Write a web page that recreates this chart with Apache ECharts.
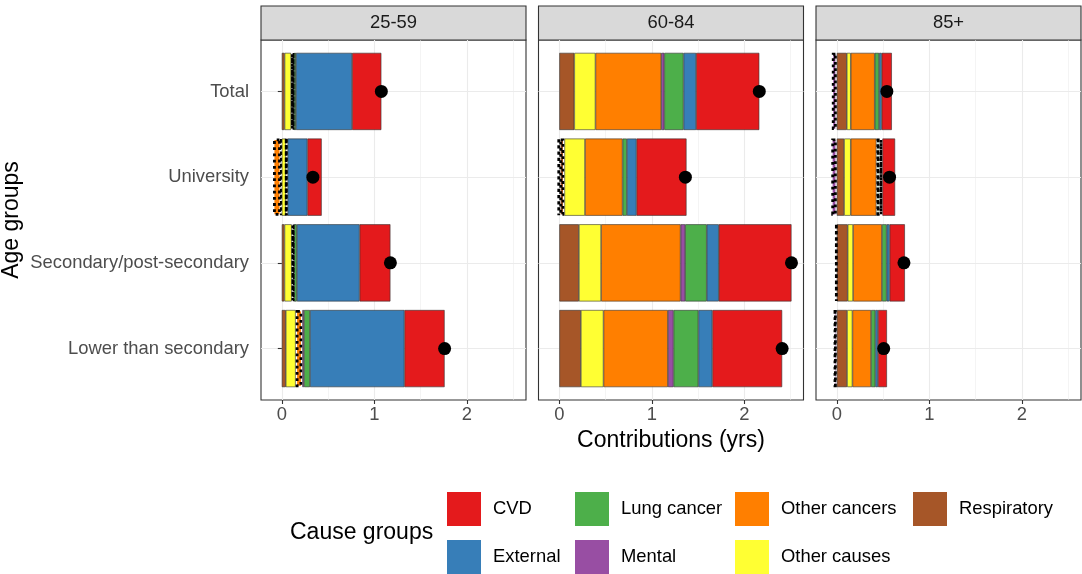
<!DOCTYPE html>
<html><head><meta charset="utf-8">
<script src="https://cdn.jsdelivr.net/npm/echarts@6/dist/echarts.min.js"></script>
<style>html,body{margin:0;padding:0;background:#fff}#c{width:1082px;height:574px}</style>
</head><body><div id="c"></div>
<script>
// ---------------- data ----------------
const ages = ['25-59', '60-84', '85+'];
const groups = ['Total', 'University', 'Secondary/post-secondary', 'Lower than secondary'];
const causes = ['Respiratory', 'Other causes', 'Other cancers', 'Mental', 'Lung cancer', 'External', 'CVD'];
const causeColors = ['#A65628', '#FFFF33', '#FF7F00', '#984EA3', '#4DAF4A', '#377EB8', '#E41A1C'];
const legendCols = [['CVD', 'External'], ['Lung cancer', 'Mental'], ['Other cancers', 'Other causes'], ['Respiratory']];

// rows = causes (order above), columns = groups (Total, University, Secondary, Lower)
const vals2559 = [
  [0.030, -0.010, 0.029, 0.043],
  [0.070, 0.045, 0.078, 0.107],
  [0.030, -0.085, 0.025, 0.072],
  [0.003, 0.005, 0.003, 0.018],
  [0.020, 0.012, 0.028, 0.065],
  [0.607, 0.215, 0.678, 1.021],
  [0.316, 0.154, 0.333, 0.434]
];
const vals6084 = [
  [0.162, 0.055, 0.212, 0.233],
  [0.229, 0.223, 0.240, 0.245],
  [0.711, 0.406, 0.859, 0.696],
  [0.033, -0.012, 0.050, 0.061],
  [0.208, 0.047, 0.233, 0.269],
  [0.136, 0.104, 0.130, 0.151],
  [0.683, 0.540, 0.786, 0.754]
];
const vals85 = [
  [0.108, 0.079, 0.118, 0.111],
  [0.043, 0.072, 0.058, 0.058],
  [0.259, 0.277, 0.312, 0.201],
  [-0.054, -0.060, -0.010, -0.035],
  [0.047, 0.035, 0.051, 0.047],
  [0.028, 0.030, 0.032, 0.028],
  [0.110, 0.137, 0.165, 0.097]
];
// non-significant contributions (drawn with dotted outline)
const ns2559 = [[0,1,0,0],[0,0,0,0],[1,1,1,1],[1,1,1,0],[0,1,0,0],[0,0,0,0],[0,0,0,0]];
const ns6084 = [[0,1,0,0],[0,0,0,0],[0,0,0,0],[0,1,0,0],[0,0,0,0],[0,0,0,0],[0,0,0,0]];
const ns85   = [[0,0,0,0],[0,0,0,0],[0,0,0,0],[1,1,1,1],[0,1,0,0],[0,1,0,0],[0,0,0,0]];

const xMin = -0.225, xMax = 2.64;
const xTicks = [0, 1, 2];
const xMinor = [0.5, 1.5, 2.5];

// ---------------- layout ----------------
const FONT = '"Liberation Sans", Arial, Helvetica, sans-serif';
const SMALL = 18.4, BIG = 23;
const panelLeft = [261, 538.5, 816];
const PW = 265, PT = 40, PH = 360;
const nCat = groups.length;
const unit = PH / (nCat - 1 + 1.2);
const dataTop = PT + 0.6 * unit - unit / 2;
const dataH = unit * nCat;

const allVals = [vals2559, vals6084, vals85];
const allNs = [ns2559, ns6084, ns85];

const grids = [], xAxes = [], yAxes = [], series = [], graphics = [];

ages.forEach((age, p) => {
  const vals = allVals[p], ns = allNs[p];
  const L = panelLeft[p];
  grids.push({ left: L, top: PT, width: PW, height: PH, show: true, borderColor: '#333333', borderWidth: 1.1, backgroundColor: 'transparent' });
  grids.push({ left: L, top: dataTop, width: PW, height: dataH });
  const gF = 2 * p, gD = 2 * p + 1;
  xAxes.push({
    type: 'value', gridIndex: gF, min: xMin, max: xMax, position: 'bottom',
    axisLine: { show: false },
    axisTick: { show: true, length: 4, customValues: xTicks, lineStyle: { color: '#333333', width: 1.1 } },
    axisLabel: { show: true, customValues: xTicks, fontSize: SMALL, color: '#4d4d4d', fontFamily: FONT, margin: 6 },
    splitLine: { show: true, lineStyle: { color: '#ebebeb', width: 1.1 } }
  });
  xAxes.push({
    type: 'value', gridIndex: gF, min: xMin, max: xMax, position: 'top',
    axisLine: { show: false },
    axisTick: { show: false, customValues: xMinor },
    axisLabel: { show: false, customValues: xMinor },
    splitLine: { show: true, lineStyle: { color: '#ebebeb', width: 0.55 } }
  });
  xAxes.push({ type: 'value', gridIndex: gD, min: xMin, max: xMax, show: false });
  const xD = 3 * p + 2;

  yAxes.push({ type: 'value', gridIndex: gF, show: false });
  yAxes.push({
    type: 'category', gridIndex: gD, data: groups, inverse: true,
    axisLine: { show: false },
    axisTick: { show: p === 0, alignWithLabel: true, length: 4, lineStyle: { color: '#333333', width: 1.1 } },
    axisLabel: { show: p === 0, fontSize: SMALL, color: '#4d4d4d', fontFamily: FONT, margin: 12 },
    splitLine: { show: true, alignWithLabel: true, lineStyle: { color: '#ebebeb', width: 1.1 } }
  });
  const yD = 2 * p + 1;

  causes.forEach((cause, c) => {
    series.push({
      type: 'bar', name: cause, xAxisIndex: xD, yAxisIndex: yD, stack: 'p' + p,
      barWidth: '90%',
      itemStyle: { color: causeColors[c], borderColor: '#333333', borderWidth: 0.6 },
      emphasis: { disabled: true },
      data: groups.map((g, i) => ns[c][i]
        ? { value: vals[c][i], itemStyle: { borderColor: '#000', borderWidth: 2.8, borderType: [2.8, 3.4] } }
        : vals[c][i])
    });
  });
  const totals = groups.map((g, i) => vals.reduce((s, row) => s + row[i], 0));
  series.push({
    type: 'scatter', name: 'total', xAxisIndex: xD, yAxisIndex: yD, z: 10,
    symbolSize: 13, itemStyle: { color: '#000', opacity: 1 }, emphasis: { disabled: true },
    data: totals.map((t, i) => [t, i])
  });

  graphics.push({ type: 'rect', shape: { x: L, y: 6, width: PW, height: PT - 6 }, style: { fill: '#d9d9d9', stroke: '#333333', lineWidth: 1.1 } });
  graphics.push({ type: 'text', x: L + PW / 2, y: 6 + (PT - 6) / 2, style: { text: age, fill: '#1a1a1a', font: SMALL + 'px ' + FONT, textAlign: 'center', textVerticalAlign: 'middle' } });
});

graphics.push({ type: 'text', x: 12, y: dataTop + dataH / 2, rotation: Math.PI / 2, style: { text: 'Age groups', fill: '#000', font: BIG + 'px ' + FONT, textAlign: 'center', textVerticalAlign: 'middle' } });
graphics.push({ type: 'text', x: panelLeft[1] + PW / 2, y: 441, style: { text: 'Contributions (yrs)', fill: '#000', font: BIG + 'px ' + FONT, textAlign: 'center', textVerticalAlign: 'middle' } });
graphics.push({ type: 'text', x: 290, y: 533, style: { text: 'Cause groups', fill: '#000', font: BIG + 'px ' + FONT, textAlign: 'left', textVerticalAlign: 'middle' } });

const legendLeft = [447, 575, 735, 913];
const legends = legendCols.map((col, k) => ({
  data: col, left: legendLeft[k], top: 492, orient: 'vertical',
  itemWidth: 34, itemHeight: 34, itemGap: 14, padding: 0, icon: 'rect',
  selectedMode: false,
  itemStyle: { borderWidth: 0 },
  textStyle: { fontSize: SMALL, color: '#000', fontFamily: FONT, padding: [0, 0, 0, 7] }
}));

const chart = echarts.init(document.getElementById('c'), null, { renderer: 'canvas' });
chart.setOption({
  animation: false,
  backgroundColor: '#ffffff',
  textStyle: { fontFamily: FONT },
  grid: grids, xAxis: xAxes, yAxis: yAxes, series: series,
  legend: legends, graphic: graphics
});
</script></body></html>
